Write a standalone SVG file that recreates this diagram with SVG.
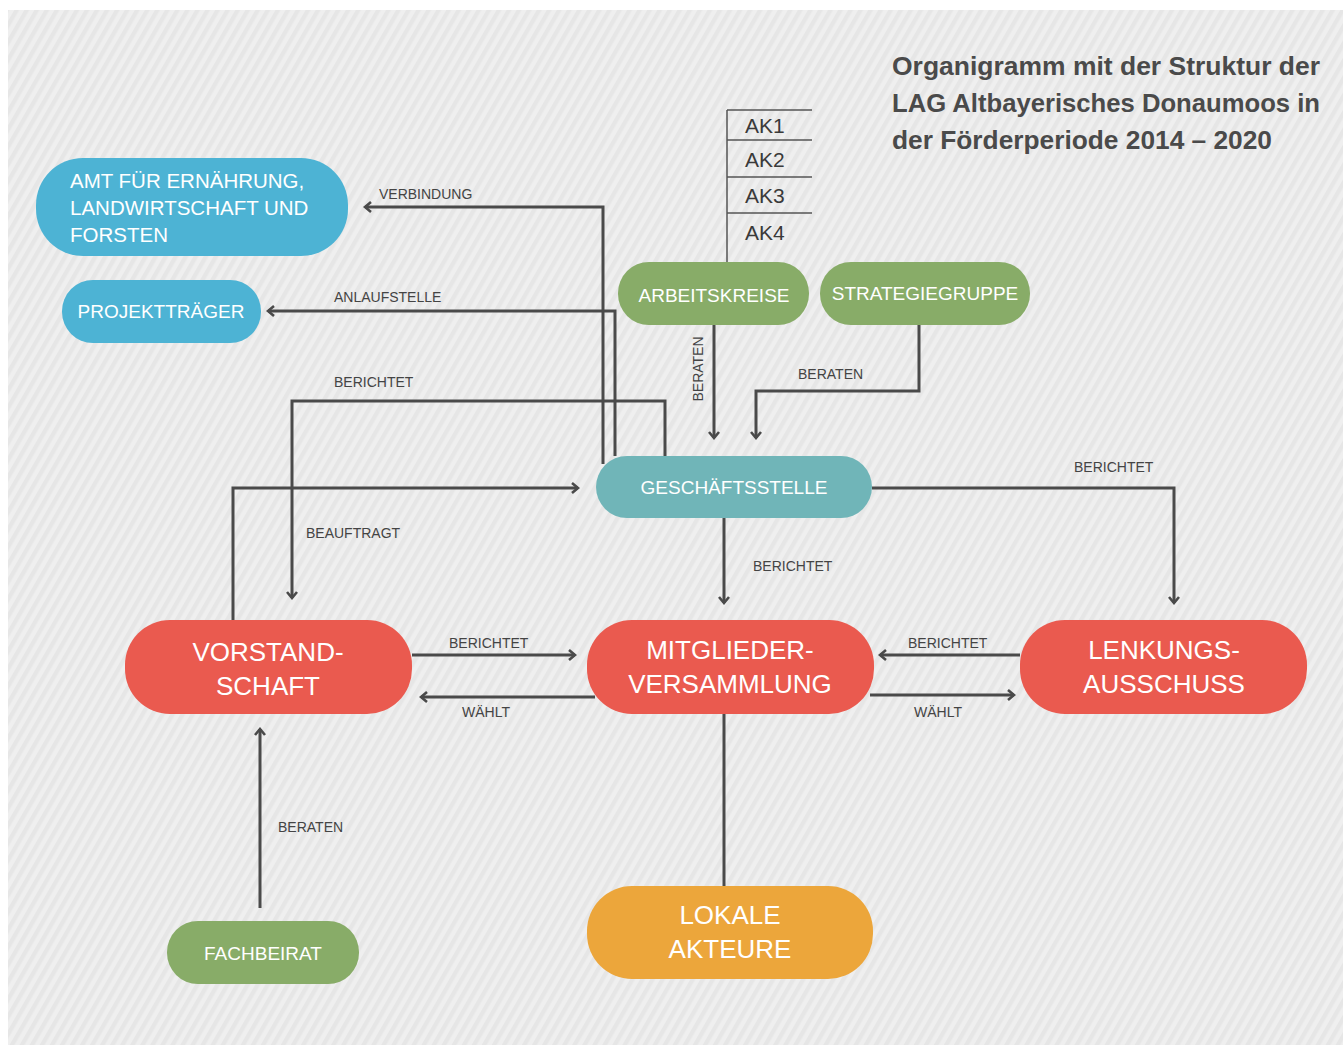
<svg xmlns="http://www.w3.org/2000/svg" width="1343" height="1045" viewBox="0 0 1343 1045">
<defs>
<pattern id="stripes" width="8.7" height="10" patternUnits="userSpaceOnUse" patternTransform="rotate(30)">
<rect width="8.7" height="10" fill="#efefef"/>
<rect width="4.3" height="10" fill="#e6e6e6"/>
</pattern>
<marker id="arr" viewBox="0 0 10 12" refX="8" refY="6" markerWidth="10" markerHeight="12" markerUnits="userSpaceOnUse" orient="auto">
<path d="M2,1 L8,6 L2,11" fill="none" stroke="#4a4a4a" stroke-width="2.6"/>
</marker>
<style>
.ln{fill:none;stroke:#4a4a4a;stroke-width:3}
.lbl{font-family:"Liberation Sans",Arial,sans-serif;font-size:14px;fill:#444}
.nt{font-family:"Liberation Sans",Arial,sans-serif;fill:#fff;text-anchor:middle}
.s19{font-size:19px}
.s26{font-size:26px}
.ak{font-family:"Liberation Sans",Arial,sans-serif;font-size:21px;fill:#3a3a3a}
.akl{stroke:#555;stroke-width:1.5;fill:none}
.title{font-family:"Liberation Sans",Arial,sans-serif;font-size:26px;font-weight:bold;fill:#4a4a4a}
</style>
</defs>
<rect width="1343" height="1045" fill="#ffffff"/>
<rect x="8" y="10" width="1335" height="1035" fill="url(#stripes)"/>

<g id="title">
<text class="title" x="892" y="75" textLength="428" lengthAdjust="spacingAndGlyphs">Organigramm mit der Struktur der</text>
<text class="title" x="892" y="112" textLength="428" lengthAdjust="spacingAndGlyphs">LAG Altbayerisches Donaumoos in</text>
<text class="title" x="892" y="149" textLength="380" lengthAdjust="spacingAndGlyphs">der Förderperiode 2014 – 2020</text>
</g>

<g id="ak-list">
<path class="akl" d="M727,110 V262 M727,110 H812 M727,140 H812 M727,177 H812 M727,213 H812"/>
<text class="ak" x="745" y="133">AK1</text>
<text class="ak" x="745" y="167">AK2</text>
<text class="ak" x="745" y="203">AK3</text>
<text class="ak" x="745" y="240">AK4</text>
</g>

<g id="connectors">
<path class="ln" d="M603,464 V207 H365" marker-end="url(#arr)"/>
<path class="ln" d="M615,456 V311 H268" marker-end="url(#arr)"/>
<path class="ln" d="M665,456 V401 H292 V598" marker-end="url(#arr)"/>
<path class="ln" d="M233,620 V488 H578" marker-end="url(#arr)"/>
<path class="ln" d="M714,325 V438" marker-end="url(#arr)"/>
<path class="ln" d="M919,325 V391 H756 V438" marker-end="url(#arr)"/>
<path class="ln" d="M872,488 H1174 V603" marker-end="url(#arr)"/>
<path class="ln" d="M724,518 V603" marker-end="url(#arr)"/>
<path class="ln" d="M412,655 H575" marker-end="url(#arr)"/>
<path class="ln" d="M595,697 H421" marker-end="url(#arr)"/>
<path class="ln" d="M1020,655 H880" marker-end="url(#arr)"/>
<path class="ln" d="M870,695 H1014" marker-end="url(#arr)"/>
<path class="ln" d="M724,714 V886"/>
<path class="ln" d="M260,908 V729" marker-end="url(#arr)"/>
<text class="lbl" x="379" y="199">VERBINDUNG</text>
<text class="lbl" x="334" y="302">ANLAUFSTELLE</text>
<text class="lbl" x="334" y="387">BERICHTET</text>
<text class="lbl" x="306" y="538">BEAUFTRAGT</text>
<text class="lbl" transform="translate(703,369) rotate(-90)" text-anchor="middle">BERATEN</text>
<text class="lbl" x="798" y="379">BERATEN</text>
<text class="lbl" x="1074" y="472">BERICHTET</text>
<text class="lbl" x="753" y="571">BERICHTET</text>
<text class="lbl" x="449" y="648">BERICHTET</text>
<text class="lbl" x="462" y="717">WÄHLT</text>
<text class="lbl" x="908" y="648">BERICHTET</text>
<text class="lbl" x="914" y="717">WÄHLT</text>
<text class="lbl" x="278" y="832">BERATEN</text>
</g>

<g id="amt">
<rect x="36" y="158" width="312" height="98" rx="47" fill="#4db3d4"/>
<text font-family="Liberation Sans, Arial, sans-serif" font-size="20.5" fill="#fff" x="70" y="188">AMT FÜR ERNÄHRUNG,</text>
<text font-family="Liberation Sans, Arial, sans-serif" font-size="20.5" fill="#fff" x="70" y="215">LANDWIRTSCHAFT UND</text>
<text font-family="Liberation Sans, Arial, sans-serif" font-size="20.5" fill="#fff" x="70" y="242">FORSTEN</text>
</g>
<g id="projekttraeger">
<rect x="62" y="280" width="199" height="63" rx="31" fill="#4db3d4"/>
<text class="nt s19" x="161" y="318">PROJEKTTRÄGER</text>
</g>
<g id="arbeitskreise">
<rect x="618" y="262" width="191" height="63" rx="31" fill="#88ac68"/>
<text class="nt s19" x="714" y="302">ARBEITSKREISE</text>
</g>
<g id="strategiegruppe">
<rect x="820" y="262" width="210" height="63" rx="31" fill="#88ac68"/>
<text class="nt s19" x="925" y="300">STRATEGIEGRUPPE</text>
</g>
<g id="geschaeftsstelle">
<rect x="596" y="456" width="276" height="62" rx="31" fill="#70b5b8"/>
<text class="nt s19" x="734" y="494">GESCHÄFTSSTELLE</text>
</g>
<g id="vorstandschaft">
<rect x="125" y="620" width="287" height="94" rx="45" fill="#ea5a4f"/>
<text class="nt s26" x="268" y="661">VORSTAND-</text>
<text class="nt s26" x="268" y="695">SCHAFT</text>
</g>
<g id="mitgliederversammlung">
<rect x="587" y="620" width="287" height="94" rx="45" fill="#ea5a4f"/>
<text class="nt s26" x="730" y="659">MITGLIEDER-</text>
<text class="nt s26" x="730" y="693">VERSAMMLUNG</text>
</g>
<g id="lenkungsausschuss">
<rect x="1020" y="620" width="287" height="94" rx="45" fill="#ea5a4f"/>
<text class="nt s26" x="1164" y="659">LENKUNGS-</text>
<text class="nt s26" x="1164" y="693">AUSSCHUSS</text>
</g>
<g id="lokale-akteure">
<rect x="587" y="886" width="286" height="93" rx="45" fill="#eca63b"/>
<text class="nt s26" x="730" y="924">LOKALE</text>
<text class="nt s26" x="730" y="958">AKTEURE</text>
</g>
<g id="fachbeirat">
<rect x="167" y="921" width="192" height="63" rx="31" fill="#88ac68"/>
<text class="nt s19" x="263" y="960">FACHBEIRAT</text>
</g>
</svg>
